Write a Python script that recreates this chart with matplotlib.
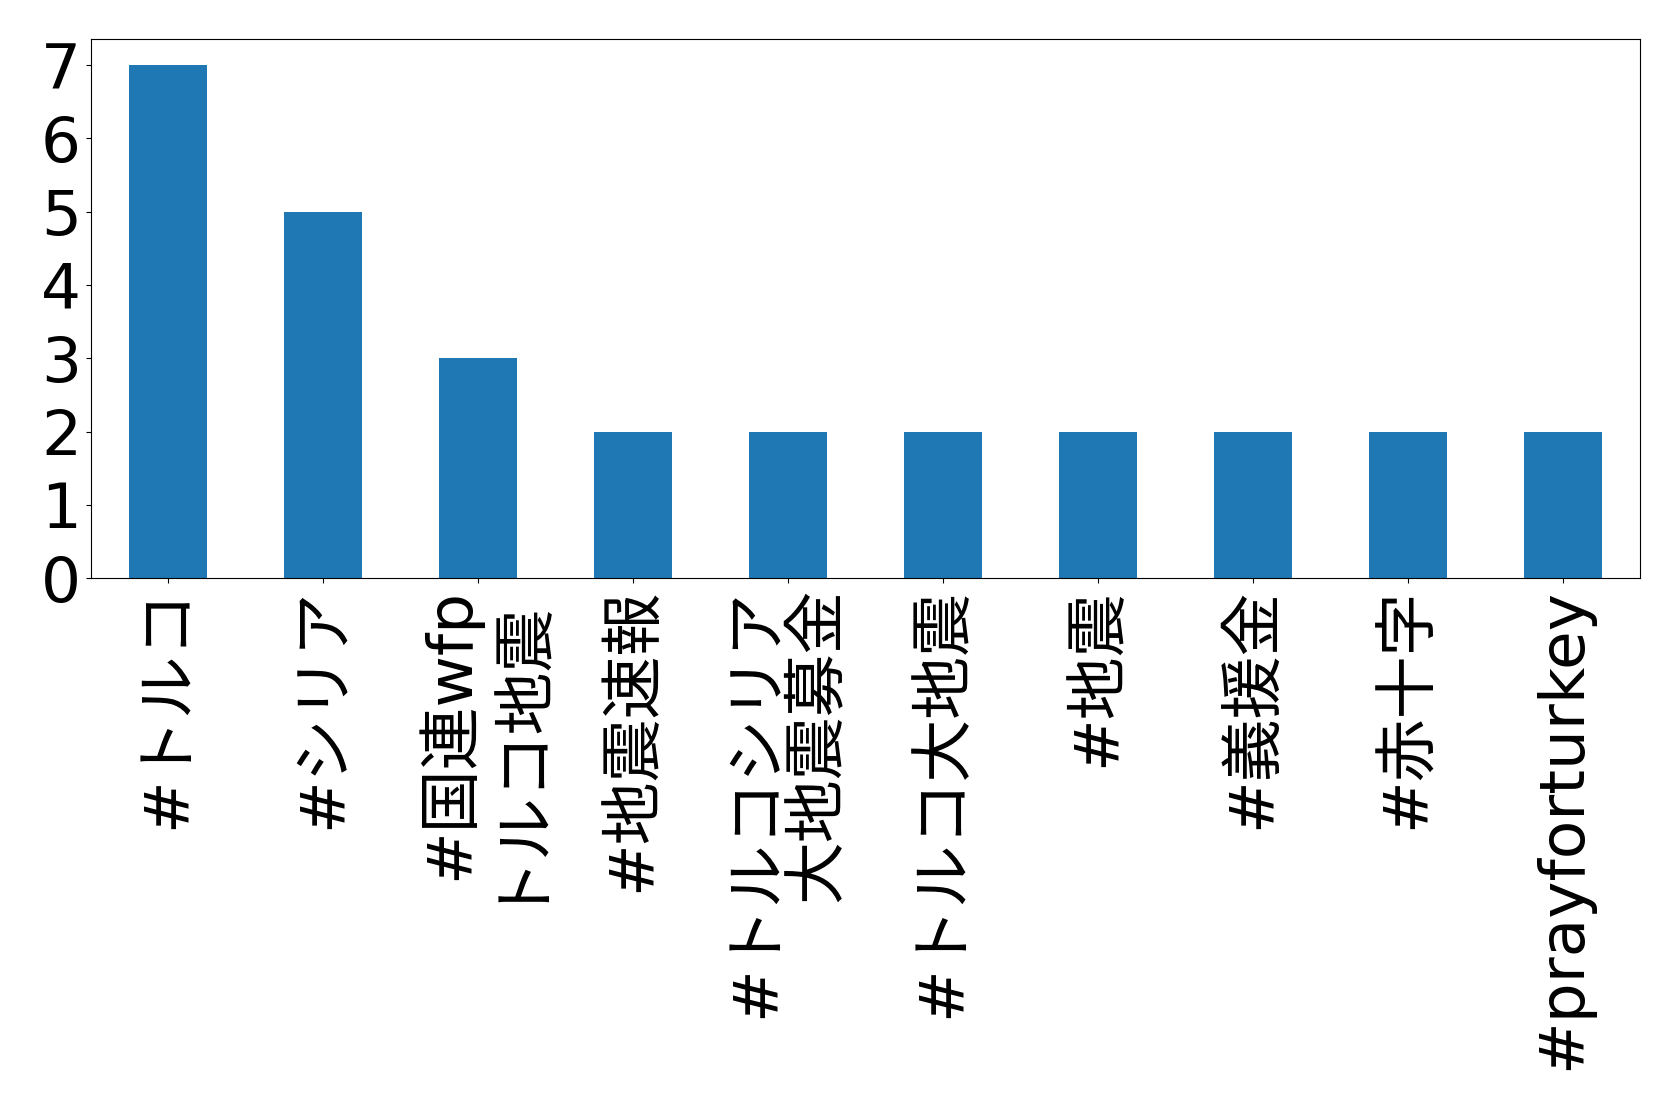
import matplotlib
matplotlib.use("Agg")
import matplotlib.pyplot as plt

# hashtag counts (the two longest tags are split on two lines so they fit)
hashtags = ["#トルコ", "#シリア", "#国連wfp\nトルコ地震", "#地震速報",
            "#トルコシリア\n大地震募金", "#トルコ大地震", "#地震", "#義援金",
            "#赤十字", "#prayforturkey"]
counts = [7, 5, 3, 2, 2, 2, 2, 2, 2, 2]
yticks = [0, 1, 2, 3, 4, 5, 6, 7]

# latin in DejaVu, japanese falls back to Noto CJK
plt.rcParams['font.family'] = ['DejaVu Sans', 'Noto Sans CJK JP']

fig = plt.figure(figsize=(16.79, 11.06), dpi=100)
ax = fig.add_axes([0.054, 0.4771, 0.923, 0.4874])

x = range(len(counts))
ax.bar(x, counts, width=0.5, color="#1f77b4")
ax.set_xlim(-0.5, len(counts) - 0.5)
ax.set_xticks(list(x))
ax.set_xticklabels(hashtags, rotation=90, multialignment="right", linespacing=1.0)
ax.set_yticks(yticks)
ax.tick_params(labelsize=45.3)

fig.savefig("out.png", dpi=100)
